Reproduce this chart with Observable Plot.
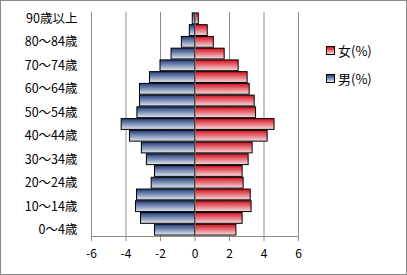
<!DOCTYPE html>
<html>
<head>
<meta charset="utf-8">
<script src="https://cdn.jsdelivr.net/npm/d3@7"></script>
<script src="https://cdn.jsdelivr.net/npm/@observablehq/plot@0.6"></script>
<style>
  body { margin: 0; background: #fff; }
  #chart { position: relative; width: 407px; height: 275px; font-family: "Noto Sans CJK JP", sans-serif; }
  #chart svg { display: block; }
  #border { position: absolute; left: 0; top: 0; width: 407px; height: 275px; box-sizing: border-box; border: 1px solid #8a8a8a; pointer-events: none; }
  .legend { position: absolute; left: 326px; font-size: 13px; color: #000; display: flex; align-items: center; }
  .legend .sw { width: 7px; height: 7px; border: 1px solid #000; margin-right: 3px; }
</style>
</head>
<body>
<div id="chart"></div>
<script>
// Age groups, youngest first
const ages = ["0～4歳", "5～9歳", "10～14歳", "15～19歳", "20～24歳", "25～29歳", "30～34歳",
  "35～39歳", "40～44歳", "45～49歳", "50～54歳", "55～59歳", "60～64歳", "65～69歳",
  "70～74歳", "75～79歳", "80～84歳", "85～89歳", "90歳以上"];
// Share of population (%) by age group
const male = [2.32, 3.13, 3.42, 3.36, 2.51, 2.32, 2.79, 3.08, 3.77, 4.25,
  3.34, 3.19, 3.19, 2.61, 2.0, 1.36, 0.76, 0.3, 0.13];
const female = [2.40, 2.76, 3.28, 3.23, 2.82, 2.76, 3.11, 3.34, 4.21, 4.61,
  3.54, 3.46, 3.17, 3.05, 2.53, 1.72, 1.09, 0.74, 0.22];
// Labelled age groups on the vertical axis
const yTicks = ["0～4歳", "10～14歳", "20～24歳", "30～34歳", "40～44歳", "50～54歳",
  "60～64歳", "70～74歳", "80～84歳", "90歳以上"];
const xTicks = [-6, -4, -2, 0, 2, 4, 6];
const gridTicks = [-4, -2, 2, 4, 6];

const rows = ages.flatMap((age, i) => [
  {age, sex: "男", value: -male[i]},
  {age, sex: "女", value: female[i]}
]);

const chart = Plot.plot({
  width: 407,
  height: 275,
  marginLeft: 91,
  marginRight: 109,
  marginTop: 12,
  marginBottom: 39,
  style: {fontFamily: "'Noto Sans CJK JP', sans-serif", fontSize: "12px", color: "#000", background: "#fff"},
  x: {domain: [-6, 6]},
  y: {domain: ages.slice().reverse(), padding: 0.08, round: false},
  marks: [
    Plot.ruleX(gridTicks, {stroke: "#8c8c8c", strokeOpacity: 1}),
    Plot.barX(rows, {
      y: "age", x1: 0, x2: "value",
      fill: d => d.sex === "男" ? "url(#gradMale)" : "url(#gradFemale)",
      stroke: "#000", strokeWidth: 1
    }),
    Plot.ruleX([0], {stroke: "#707070", strokeWidth: 1.2}),
    Plot.ruleX([-6], {stroke: "#8c8c8c"}),
    Plot.frame({anchor: "bottom", stroke: "#8c8c8c"}),
    Plot.axisX({ticks: xTicks, tickSize: 5, tickPadding: 8, stroke: "#8c8c8c", label: null, fontSize: 12, tickFormat: d => d}),
    Plot.axisY({ticks: yTicks, tickSize: 0, tickPadding: 14, label: null, fontSize: 12.5})
  ]
});

// Vertical gradients for the bar fills: dark at the top edge, pale at the bottom
const svg = d3.select(chart);
const defs = svg.insert("defs", ":first-child");
function grad(id, dark, light) {
  const g = defs.append("linearGradient").attr("id", id)
    .attr("x1", 0).attr("y1", 0).attr("x2", 0).attr("y2", 1);
  g.append("stop").attr("offset", "0%").attr("stop-color", dark);
  g.append("stop").attr("offset", "100%").attr("stop-color", light);
}
grad("gradMale", "#1f3c7a", "#e2e7f2");
grad("gradFemale", "#d60e1c", "#f6dde0");

const root = document.getElementById("chart");
root.appendChild(chart);

const legendItems = [
  {label: "女(%)", fill: "linear-gradient(#d60e1c, #f6dde0)", top: 41},
  {label: "男(%)", fill: "linear-gradient(#1f3c7a, #e2e7f2)", top: 69}
];
for (const item of legendItems) {
  const el = document.createElement("div");
  el.className = "legend";
  el.style.top = item.top + "px";
  const sw = document.createElement("div");
  sw.className = "sw";
  sw.style.background = item.fill;
  el.appendChild(sw);
  el.appendChild(document.createTextNode(item.label));
  root.appendChild(el);
}
const border = document.createElement("div");
border.id = "border";
root.appendChild(border);
</script>
</body>
</html>
